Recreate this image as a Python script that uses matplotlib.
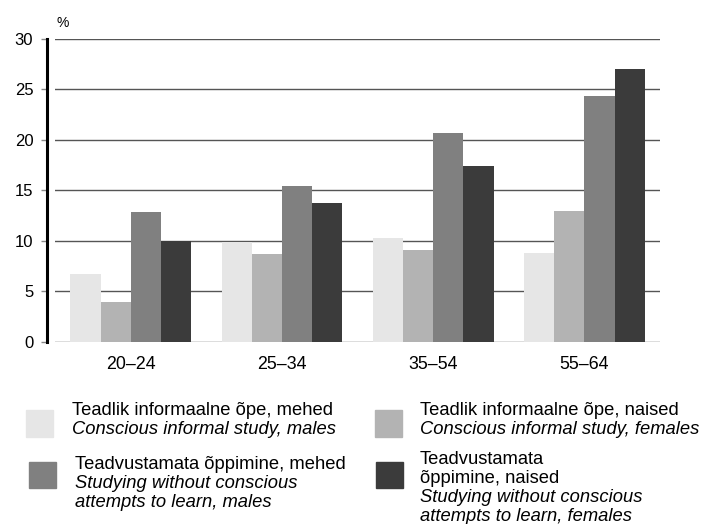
import matplotlib
matplotlib.use("Agg")
import matplotlib.pyplot as plt
from matplotlib.patches import Rectangle
import numpy as np

plt.rcParams['font.family'] = ['Liberation Sans', 'DejaVu Sans']

age_groups = ['20–24', '25–34', '35–54', '55–64']
conscious_males = [6.7, 9.9, 10.3, 8.8]
conscious_females = [3.9, 8.7, 9.1, 12.9]
unconscious_males = [12.8, 15.4, 20.7, 24.3]
unconscious_females = [10.0, 13.7, 17.4, 27.0]

series = [conscious_males, conscious_females, unconscious_males, unconscious_females]
colors = ['#e6e6e6', '#b3b3b3', '#808080', '#3b3b3b']

legend_lines = [
    ['Teadlik informaalne õpe, mehed', 'Conscious informal study, males'],
    ['Teadlik informaalne õpe, naised', 'Conscious informal study, females'],
    ['Teadvustamata õppimine, mehed', 'Studying without conscious', 'attempts to learn, males'],
    ['Teadvustamata', 'õppimine, naised', 'Studying without conscious', 'attempts to learn, females'],
]
# number of Estonian (upright) lines in each label, the rest is italic
upright_count = [1, 1, 1, 2]

W, H = 703, 524
fig = plt.figure(figsize=(W / 100, H / 100), dpi=100)
ax = fig.add_axes([55.2 / W, 1 - 341.5 / H, (660 - 55.2) / W, (341.5 - 39) / H])

x = np.arange(len(age_groups))
width = 0.2
for i, (vals, c) in enumerate(zip(series, colors)):
    ax.bar(x + (i - 1.5) * width, vals, width, color=c, zorder=3)

ax.set_xlim(-0.5, len(age_groups) - 0.5)
ax.set_ylim(0, 30)
ax.set_yticks(range(0, 31, 5))
ax.set_xticks(x)
ax.set_xticklabels(age_groups)
ax.yaxis.grid(True, color='#555555', linewidth=1, zorder=0)
ax.set_axisbelow(True)

for s in ['top', 'right', 'bottom']:
    ax.spines[s].set_visible(False)
ax.spines['left'].set_position(('outward', 6))
ax.spines['left'].set_linewidth(2.2)
ax.spines['left'].set_color('black')
ax.tick_params(axis='y', length=4.3, width=1, color='#888888', pad=5.5, labelsize=12)
ax.tick_params(axis='x', length=0, pad=10.5, labelsize=12.8)

fig.text(56.5 / W, 1 - 27 / H, '%', fontsize=10, va='baseline', ha='left')


def px(xp, yp):
    return xp / W, 1 - yp / H


# legend built by hand: two columns, each label has upright + italic lines
squares = [(26, 410), (375, 410), (29, 461.7), (376, 461.7)]
text_x = [71.7, 420, 75, 420]
first_baseline = [415, 415, 469, 464.3]
step = 18.8
for k in range(4):
    sx, sy = squares[k]
    fig.patches.append(Rectangle(px(sx, sy + 26.7), 26.7 / W, 26.7 / H,
                                 transform=fig.transFigure, color=colors[k]))
    for j, line in enumerate(legend_lines[k]):
        style = 'normal' if j < upright_count[k] else 'italic'
        fig.text(*px(text_x[k], first_baseline[k] + j * step), line,
                 fontsize=13.2, style=style, va='baseline', ha='left')

fig.savefig('out.png', dpi=100)
